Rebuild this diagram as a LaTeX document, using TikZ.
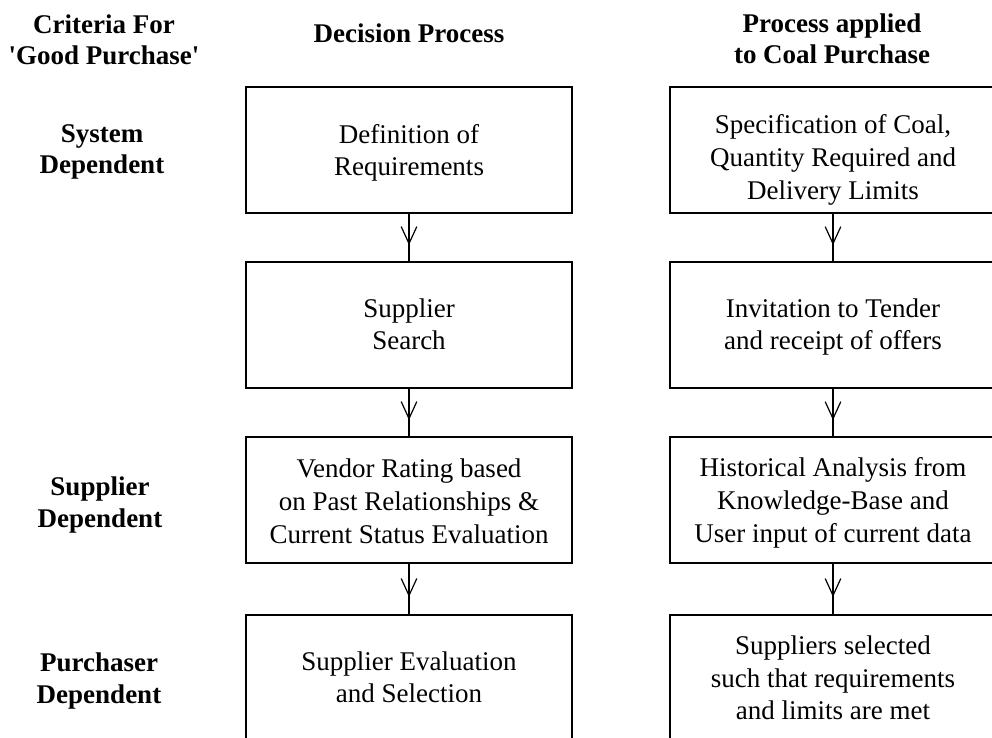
\documentclass[tikz,border=0pt]{standalone}
\usepackage{fontspec}
\setmainfont{Liberation Serif}[Ligatures=TeXOff]
\usetikzlibrary{decorations.markings}
\newcommand{\lowertext}[2]{\raisebox{-#1}[\height][\depth]{\begin{tabular}{@{}c@{}}#2\end{tabular}}}
\begin{document}
\begin{tikzpicture}[x=0.5pt,y=-0.5pt,
  txt/.style={font=\fontsize{13.5}{16.3}\selectfont, align=center},
  hdr/.style={font=\fontsize{13.5}{15.6}\selectfont\bfseries, align=center, inner sep=0pt},
  lbox/.style={txt, draw, line width=1pt, minimum width=163pt, minimum height=63pt, inner sep=0pt},
  rbox/.style={lbox, line width=0.8pt},
  varrow/.style={line width=1pt, postaction={decorate}, decoration={markings,
     mark=at position 0.63 with {\draw[line width=0.6pt] (-8.5pt,3.9pt) -- (0,0) -- (-8.5pt,-3.9pt);}}}
]
\useasboundingbox (0,0) rectangle (992,738);
\clip (0,0) rectangle (992,738);
% headers
\node[hdr] (h1) at (104,40) {Criteria For\\'Good Purchase'};
\node[hdr] (h2) at (409,33) {Decision Process};
\node[hdr] (h3) at (832,39) {Process applied\\to Coal Purchase};
% criteria labels
\node[hdr] (c1) at (102,152) {System\\Dependent};
\node[hdr] (c2) at (100,505) {Supplier\\Dependent};
\node[hdr] (c3) at (99,681) {Purchaser\\Dependent};
% left column
\node[lbox] (l1) at (409,150) {\lowertext{1.5pt}{Definition of\\Requirements}};
\node[lbox] (l2) at (409,325) {\lowertext{1pt}{Supplier\\Search}};
\node[lbox] (l3) at (409,500) {\lowertext{2pt}{Vendor Rating based\\on Past Relationships \&\\Current Status Evaluation}};
\node[lbox] (l4) at (409,678) {\lowertext{1pt}{Supplier Evaluation\\and Selection}};
% right column
\node[rbox] (r1) at (833,150) {\lowertext{5pt}{Specification of Coal,\\Quantity Required and\\Delivery Limits}};
\node[rbox] (r2) at (833,325) {\lowertext{1pt}{Invitation to Tender\\and receipt of offers}};
\node[rbox] (r3) at (833,500) {\lowertext{1.5pt}{Historical Analysis from\\Knowledge-Base and\\User input of current data}};
\node[rbox] (r4) at (833,678) {Suppliers selected\\such that requirements\\and limits are met};
% arrows
\draw[varrow] (l1.south) -- (l2.north);
\draw[varrow] (l2.south) -- (l3.north);
\draw[varrow] (l3.south) -- (l4.north);
\draw[varrow] (r1.south) -- (r2.north);
\draw[varrow] (r2.south) -- (r3.north);
\draw[varrow] (r3.south) -- (r4.north);
\end{tikzpicture}
\end{document}
